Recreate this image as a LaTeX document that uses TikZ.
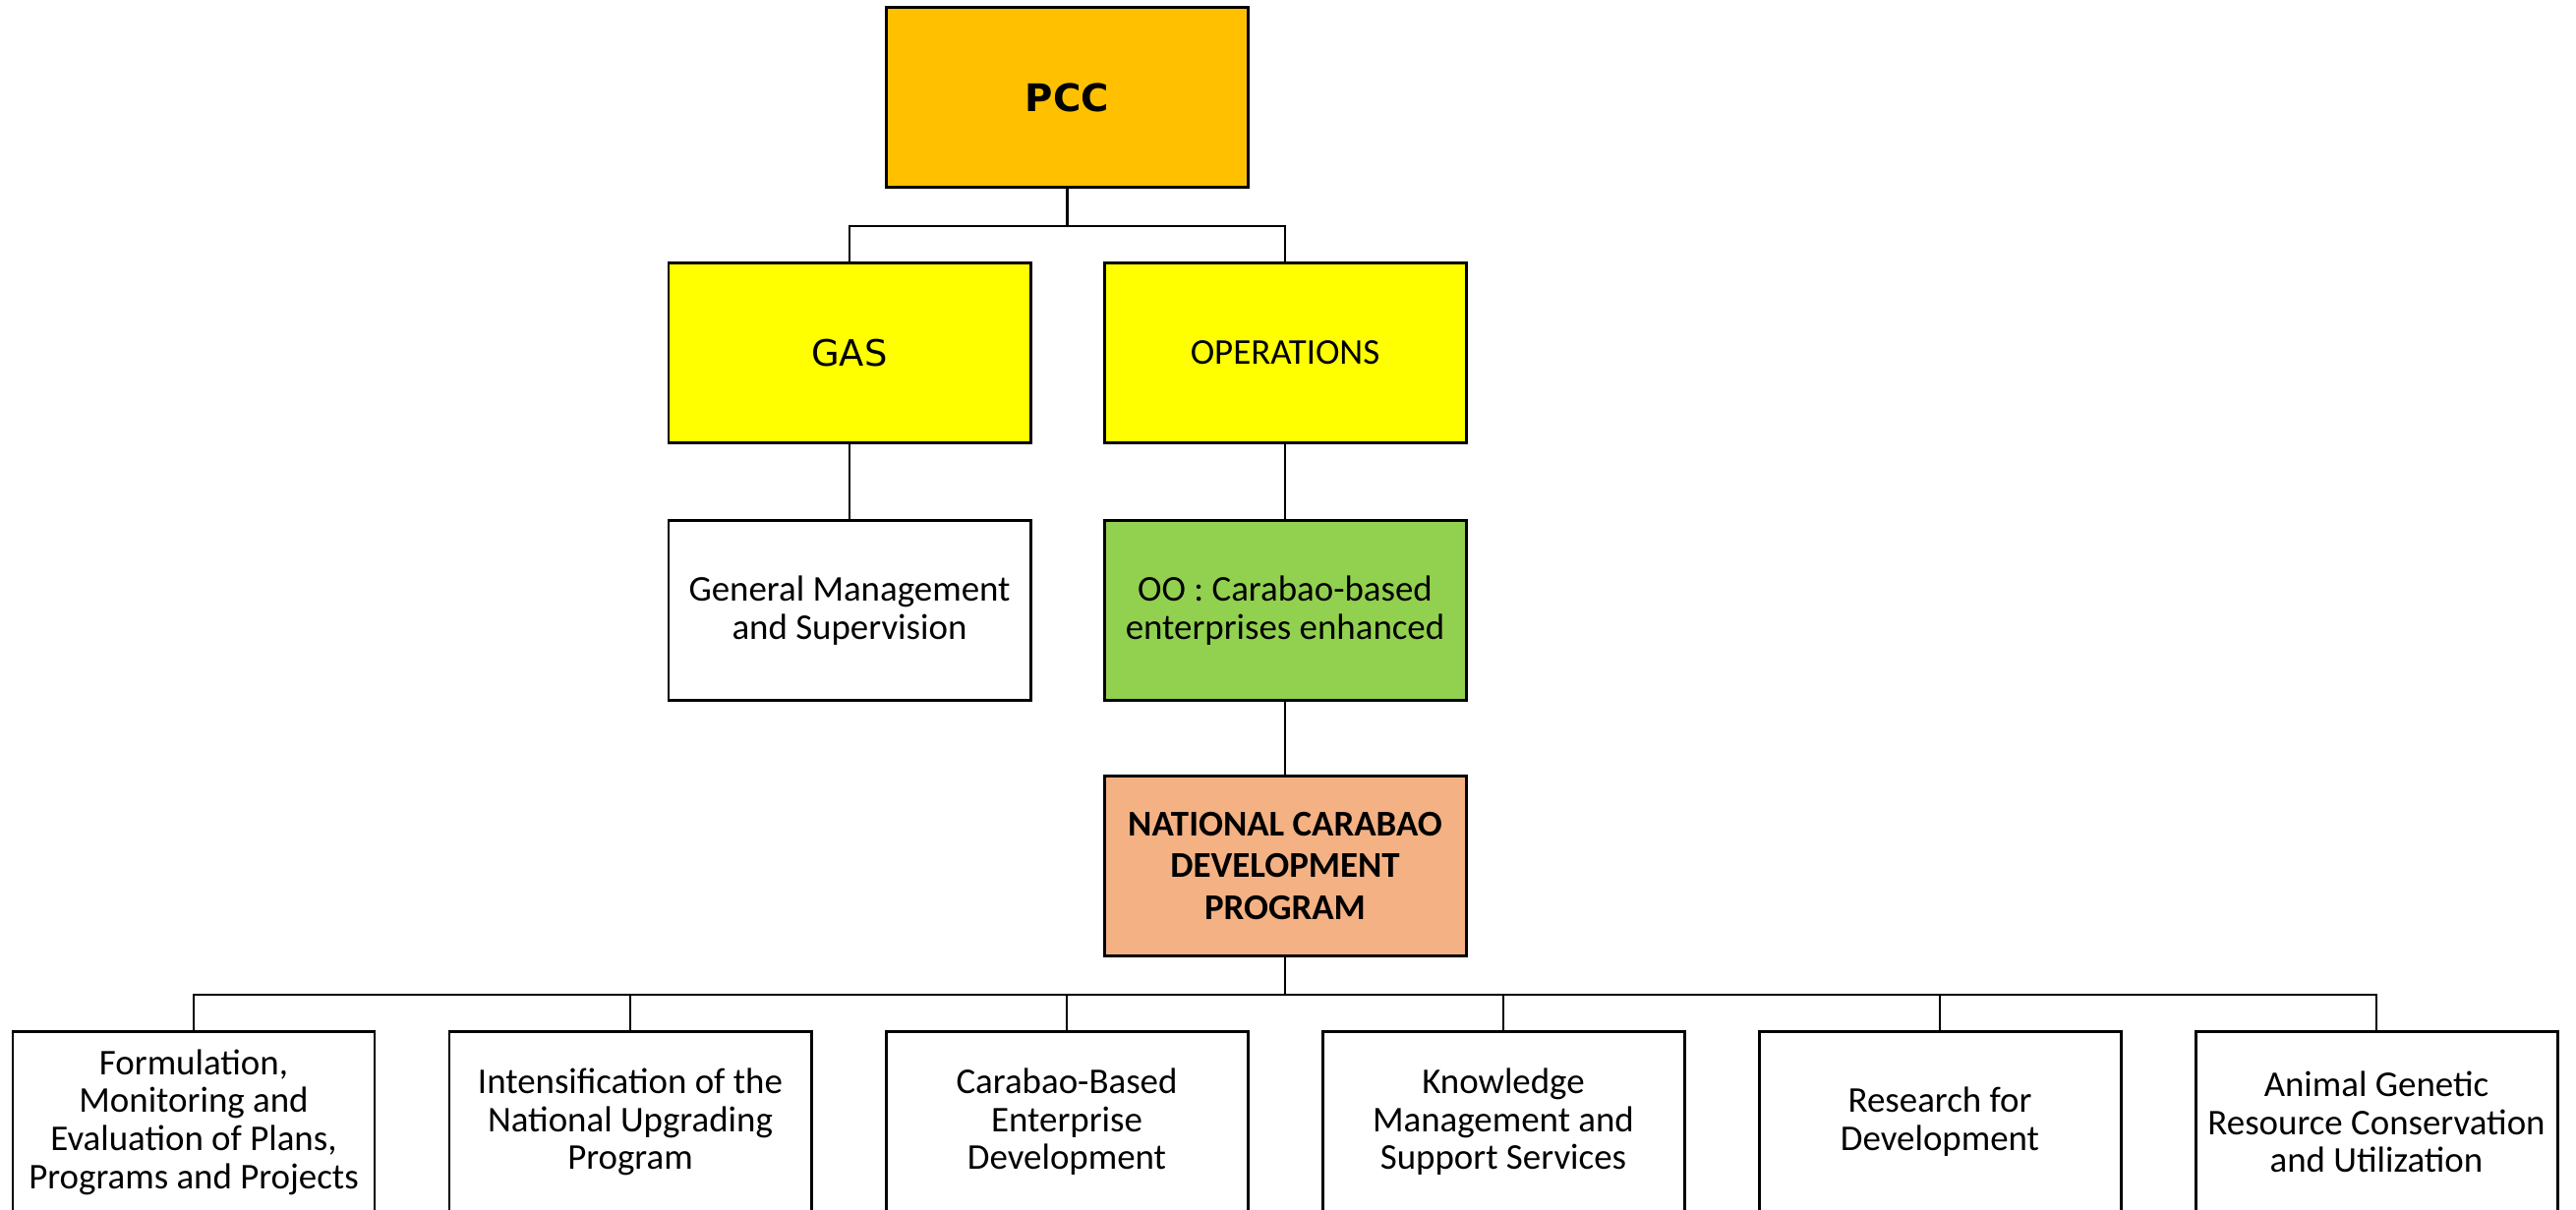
\documentclass[tikz,border=0pt]{standalone}
\usepackage{fontspec}
\setmainfont{Carlito}
\newfontfamily\dejavu{DejaVu Sans}
\usepackage{xcolor}
\usepackage{tikz}
\usetikzlibrary{positioning,calc}

\definecolor{pccorange}{HTML}{FFC000}
\definecolor{unityellow}{HTML}{FFFF00}
\definecolor{oogreen}{HTML}{92D050}
\definecolor{progpeach}{HTML}{F4B183}

\tikzset{
  orgbox/.style={draw=black, line width=0.85pt, minimum width=3.68cm, minimum height=1.83cm,
    inner sep=0pt, align=center, font=\fontsize{10.5}{11}\selectfont},
  link/.style={line width=0.7pt}
}

\begin{document}
\begin{tikzpicture}
    \useasboundingbox (0,0) rectangle (26.2,-12.31);

    % Top
    \node[orgbox, fill=pccorange, font=\dejavu\bfseries\fontsize{11}{13}\selectfont] (pcc) at (10.855,-0.995) {PCC};

    % Second level
    \node[orgbox, fill=unityellow, font=\dejavu\fontsize{10.5}{12}\selectfont] (gas) at (8.64,-3.59) {GAS};
    \node[orgbox, fill=unityellow] (ops) at (13.07,-3.59) {OPERATIONS};

    % Third level
    \node[orgbox, fill=white] (gms) at (8.64,-6.215) {General Management\\and Supervision};
    \node[orgbox, fill=oogreen] (oo) at (13.07,-6.215) {OO : Carabao-based\\enterprises enhanced};

    % Program
    \node[orgbox, fill=progpeach, font=\bfseries\fontsize{10.5}{12}\selectfont] (ncdp) at (13.07,-8.81) {NATIONAL CARABAO\\DEVELOPMENT\\PROGRAM};

    % Bottom row
    \node[orgbox] (fmep) at (1.97,-11.415) {Formulation,\\Monitoring and\\Evaluation of Plans,\\Programs and Projects};
    \node[orgbox] (inup) at (6.41,-11.415) {Intensification of the\\National Upgrading\\Program};
    \node[orgbox] (cbed) at (10.85,-11.415) {Carabao-Based\\Enterprise\\Development};
    \node[orgbox] (kmss) at (15.29,-11.415) {Knowledge\\Management and\\Support Services};
    \node[orgbox] (rfd) at (19.73,-11.415) {Research for\\Development};
    \node[orgbox] (agrc) at (24.17,-11.415) {Animal Genetic\\Resource Conservation\\and Utilization};

    % Connectors
    \coordinate (bus1) at (10.855,-2.30);
    \coordinate (bus2) at (13.07,-10.12);
    \draw[link] (pcc.south) -- (bus1);
    \draw[link] (gas.north) |- (bus1) -| (ops.north);
    \draw[link] (gas.south) -- (gms.north);
    \draw[link] (ops.south) -- (oo.north);
    \draw[link] (oo.south) -- (ncdp.north);
    \draw[link] (ncdp.south) -- (bus2);
    \draw[link] (fmep.north) |- (bus2) -| (agrc.north);
    \draw[link] (inup.north) -- (inup.north |- bus2);
    \draw[link] (cbed.north) -- (cbed.north |- bus2);
    \draw[link] (kmss.north) -- (kmss.north |- bus2);
    \draw[link] (rfd.north) -- (rfd.north |- bus2);
\end{tikzpicture}
\end{document}
